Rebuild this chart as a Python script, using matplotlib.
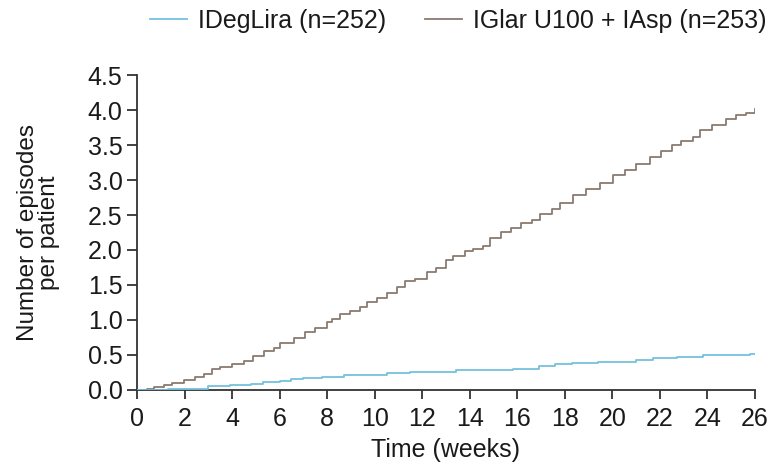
import matplotlib
matplotlib.use("Agg")
import matplotlib.pyplot as plt
from matplotlib.lines import Line2D

plt.rcParams['font.family'] = ['Liberation Sans', 'DejaVu Sans']

# IGlar U100 + IAsp: cumulative episodes per patient (step points)
glar_weeks = [0, 0.42, 0.7, 1.12, 1.47, 1.96, 2.45, 2.8, 3.16, 3.5, 4.0, 4.49,
              4.9, 5.33, 5.75, 6.03, 6.6, 7.08, 7.5, 8.0, 8.19, 8.54, 8.96,
              9.38, 9.66, 10.08, 10.5, 10.92, 11.27, 11.69, 12.18, 12.6, 13.0,
              13.3, 13.79, 14.14, 14.56, 14.84, 15.33, 15.75, 16.17, 16.6,
              16.95, 17.44, 17.79, 18.35, 18.91, 19.47, 20.03, 20.52, 21.0,
              21.6, 22.06, 22.5, 22.9, 23.4, 23.67, 24.2, 24.8, 25.2, 25.6,
              25.99, 26.0]
glar_values = [0.00, 0.02, 0.04, 0.065, 0.10, 0.14, 0.18, 0.23, 0.30, 0.33,
               0.37, 0.42, 0.48, 0.55, 0.60, 0.67, 0.74, 0.83, 0.89, 0.97,
               1.02, 1.09, 1.13, 1.19, 1.26, 1.31, 1.39, 1.47, 1.55, 1.59,
               1.68, 1.74, 1.86, 1.91, 1.98, 2.02, 2.06, 2.17, 2.26, 2.32,
               2.38, 2.43, 2.52, 2.58, 2.67, 2.79, 2.87, 2.96, 3.07, 3.15,
               3.23, 3.33, 3.41, 3.50, 3.56, 3.62, 3.71, 3.79, 3.87, 3.93,
               3.96, 4.01, 4.01]

# IDegLira: step change points
deg_weeks = [0, 1.3, 3.0, 3.9, 4.8, 5.3, 6.0, 6.5, 7.0, 7.8, 8.7, 9.5, 10.5,
             11.5, 12.3, 13.4, 15.8, 16.9, 17.6, 18.3, 19.4, 21.0, 21.7, 22.7,
             23.8, 25.8, 26.0]
deg_values = [0.00, 0.01, 0.05, 0.07, 0.09, 0.11, 0.13, 0.15, 0.17, 0.19,
              0.21, 0.22, 0.24, 0.25, 0.26, 0.29, 0.30, 0.34, 0.37, 0.39,
              0.405, 0.43, 0.45, 0.476, 0.50, 0.52, 0.52]

x_ticks = list(range(0, 27, 2))
y_ticks = [0.0, 0.5, 1.0, 1.5, 2.0, 2.5, 3.0, 3.5, 4.0, 4.5]

labels = ["IDegLira (n=252)", "IGlar U100 + IAsp (n=253)"]
blue = "#74c1dd"
brown = "#8a7b70"
txt = "#1a1a1a"

fig = plt.figure(figsize=(7.77, 4.65), dpi=100)
ax = fig.add_axes([0.1763, 0.1613, 0.7954, 0.6774])

ax.plot(deg_weeks, deg_values, drawstyle="steps-post", color=blue, lw=1.3, zorder=3)
ax.plot(glar_weeks, glar_values, drawstyle="steps-post", color=brown, lw=1.3, zorder=2)

ax.set_xlim(0, 26)
ax.set_ylim(0, 4.5)
ax.set_xticks(x_ticks)
ax.set_xticklabels([str(t) for t in x_ticks])
ax.set_yticks(y_ticks)
ax.set_yticklabels([f"{t:.1f}" for t in y_ticks])

for s in ["top", "right"]:
    ax.spines[s].set_visible(False)
for s in ["left", "bottom"]:
    ax.spines[s].set_color("#333333")
    ax.spines[s].set_linewidth(1.3)
ax.tick_params(axis="x", length=6.5, width=1.3, color="#333333",
               labelsize=18, labelcolor=txt, pad=6)
ax.tick_params(axis="y", length=7, width=1.3, color="#333333",
               labelsize=18, labelcolor=txt, pad=3.5)

ax.set_xlabel("Time (weeks)", fontsize=18, color=txt, labelpad=5)
ax.set_ylabel("Number of episodes\nper patient", fontsize=17.5, color=txt,
              labelpad=20, linespacing=0.95)

handles = [Line2D([], [], color=blue, lw=1.3), Line2D([], [], color=brown, lw=1.3)]
fig.legend(handles, labels, loc="center", bbox_to_anchor=(0.590, 0.955), ncol=2,
           frameon=False, fontsize=18, handlelength=1.48, handletextpad=0.44,
           columnspacing=1.56, labelcolor=txt, borderaxespad=0, borderpad=0)

fig.savefig("out.png", dpi=100)
